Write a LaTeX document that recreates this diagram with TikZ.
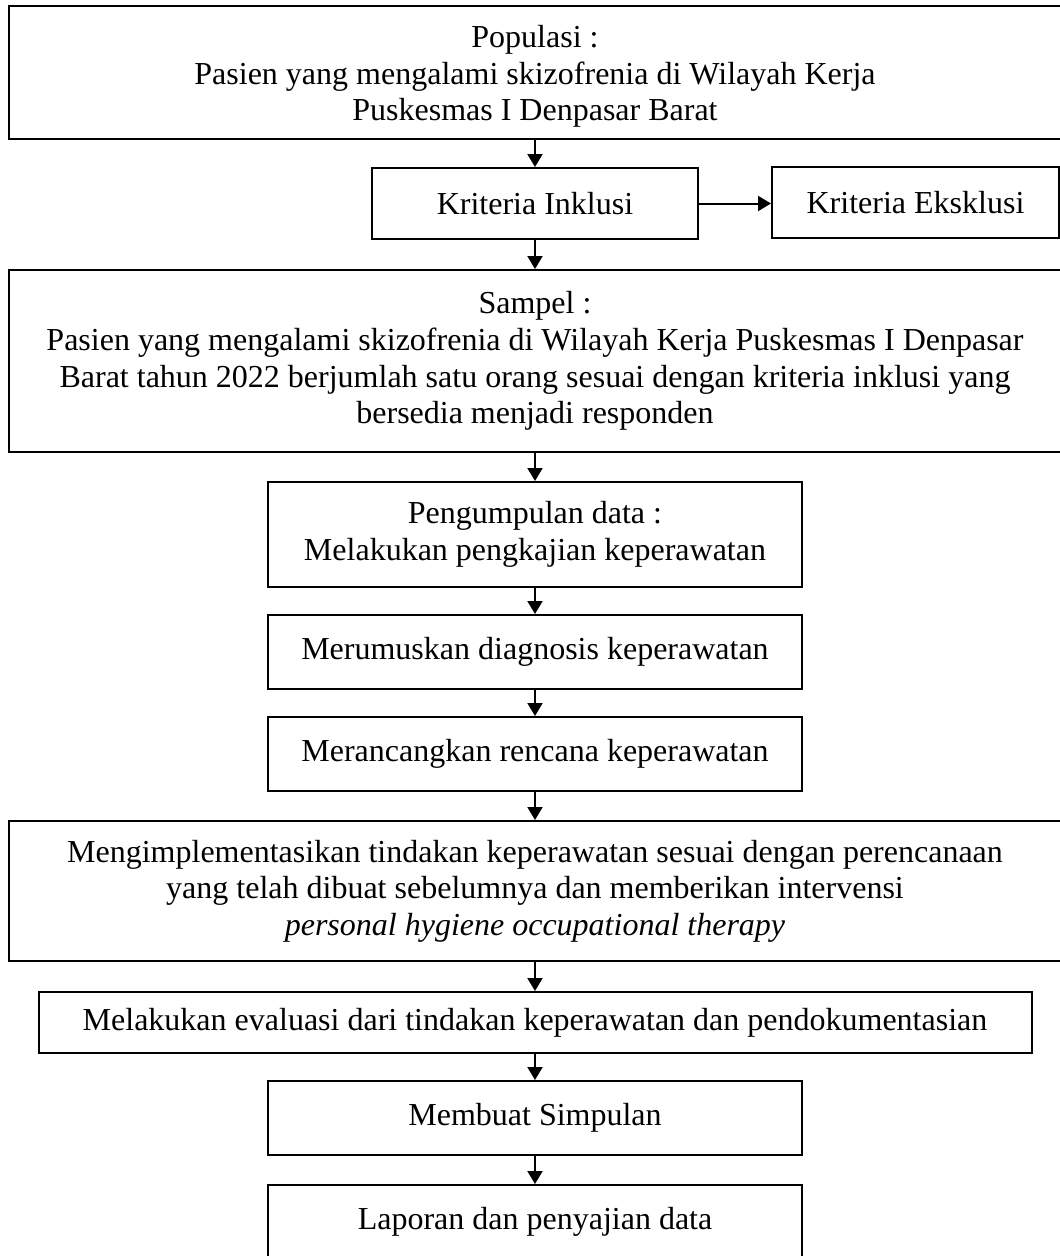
\documentclass[tikz,border=0pt]{standalone}
\usepackage{fontspec}
\setmainfont{Liberation Serif}
\usetikzlibrary{arrows.meta}
\begin{document}
\begin{tikzpicture}[x=1pt,y=-1pt,
  box/.style={draw=black, line width=2pt, inner sep=0pt, align=center,
    font=\fontsize{32}{36.6}\selectfont},
  arr/.style={-{Triangle[length=13pt,width=15pt]}, line width=2pt}]
\fill[white] (0,0) rectangle (1060,1256);
\useasboundingbox (0,0) rectangle (1060,1256);
\node[box, minimum width=1052pt, minimum height=133pt] (pop) at (535,72.5)
  {\rule{0pt}{30pt}Populasi :\\Pasien yang mengalami skizofrenia di Wilayah Kerja\\Puskesmas I Denpasar Barat};
\node[box, minimum width=326pt, minimum height=71pt] (inkl) at (535,203.5) {Kriteria Inklusi};
\node[box, minimum width=287pt, minimum height=71pt] (eks) at (915.5,202.5) {Kriteria Eksklusi};
\node[box, minimum width=1052pt, minimum height=182pt] (samp) at (535,361)
  {Sampel :\\Pasien yang mengalami skizofrenia di Wilayah Kerja Puskesmas I Denpasar\\Barat tahun 2022 berjumlah satu orang sesuai dengan kriteria inklusi yang\\bersedia menjadi responden};
\node[box, minimum width=534pt, minimum height=105pt] (kump) at (535,534.5)
  {Pengumpulan data :\\Melakukan pengkajian keperawatan};
\node[box, minimum width=534pt, minimum height=74pt] (rumus) at (535,652) {Merumuskan diagnosis keperawatan};
\node[box, minimum width=534pt, minimum height=74pt] (rancang) at (535,754) {Merancangkan rencana keperawatan};
\node[box, minimum width=1052pt, minimum height=140pt] (impl) at (535,891)
  {Mengimplementasikan tindakan keperawatan sesuai dengan perencanaan\\yang telah dibuat sebelumnya dan memberikan intervensi\\\textit{personal hygiene occupational therapy}};
\node[box, minimum width=993pt, minimum height=61pt] (eval) at (535,1022.5)
  {Melakukan evaluasi dari tindakan keperawatan dan pendokumentasian};
\node[box, minimum width=534pt, minimum height=74pt] (simp) at (535,1118) {Membuat Simpulan};
\node[box, minimum width=534pt, minimum height=74pt] (lap) at (535,1222) {Laporan dan penyajian data};
\draw[arr] (pop.south) -- (inkl.north);
\draw[arr] (inkl.east) -- (eks.west |- inkl.east);
\draw[arr] (inkl.south) -- (samp.north);
\draw[arr] (samp.south) -- (kump.north);
\draw[arr] (kump.south) -- (rumus.north);
\draw[arr] (rumus.south) -- (rancang.north);
\draw[arr] (rancang.south) -- (impl.north);
\draw[arr] (impl.south) -- (eval.north);
\draw[arr] (eval.south) -- (simp.north);
\draw[arr] (simp.south) -- (lap.north);
\end{tikzpicture}
\end{document}
